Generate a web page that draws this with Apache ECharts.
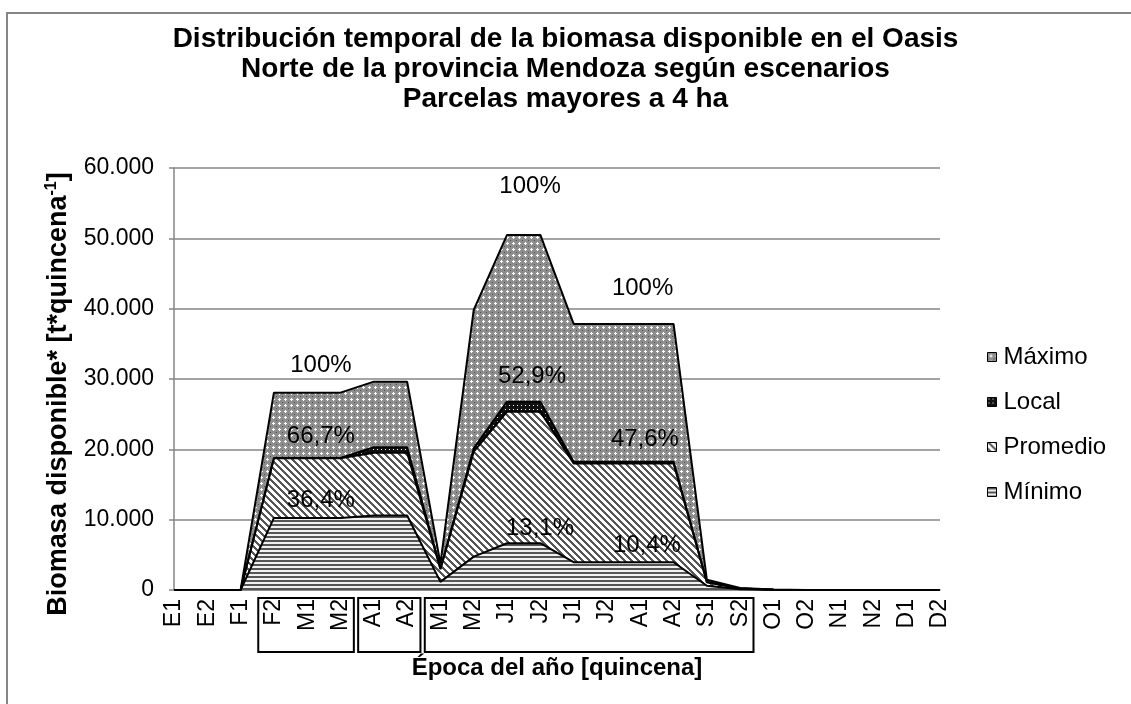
<!DOCTYPE html>
<html>
<head>
<meta charset="utf-8">
<script src="https://cdn.jsdelivr.net/npm/echarts@6/dist/echarts.min.js"></script>
<style>
  html, body { margin: 0; padding: 0; background: #fff; }
  #main { width: 1131px; height: 704px; }
</style>
</head>
<body>
<div id="main"></div>
<script>
// quincenas del año
const categories = ["E1","E2","F1","F2","M1","M2","A1","A2","M1","M2","J1","J2","J1","J2","A1","A2","S1","S2","O1","O2","N1","N2","D1","D2"];

// valores por escenario (apilados), t por quincena
const minimo   = [0,0,0,10250,10250,10250,10600,10600,1150,4740,6650,6650,3950,3950,3950,3950,600,100,30,0,0,0,0,0];
const promedio = [0,0,0,8470,8470,8470,8920,8920,1800,14930,18710,18710,14050,14050,14050,14050,500,100,20,0,0,0,0,0];
const local    = [0,0,0,50,50,50,770,770,100,480,1420,1420,250,250,250,250,50,0,0,0,0,0,0,0];
const maximo   = [0,0,0,9290,9290,9290,9330,9330,700,19670,23700,23700,19580,19580,19580,19580,300,100,20,0,0,0,0,0];

const yTicks = [0, 10000, 20000, 30000, 40000, 50000, 60000];

// porcentajes escritos sobre el grafico (indice de categoria, valor)
const noteText = ["100%","66,7%","36,4%","100%","52,9%","13,1%","100%","47,6%","10,4%"];
const noteIdx  = [4.41, 4.41, 4.41, 10.69, 10.75, 10.99, 14.07, 14.14, 14.2];
const noteVal  = [32000, 21900, 12800, 57370, 30330, 8820, 42950, 21470, 6400];

// recuadros bajo el eje x (desde, hasta)
const boxFrom = [3, 6, 8];
const boxTo   = [5, 7, 17];

const FONT = "'Liberation Sans', Arial, sans-serif";

function tile(w, h, fn) {
  const c = document.createElement("canvas");
  c.width = w; c.height = h;
  const g = c.getContext("2d");
  for (let y = 0; y < h; y++) {
    for (let x = 0; x < w; x++) {
      g.fillStyle = fn(x, y);
      g.fillRect(x, y, 1, 1);
    }
  }
  return { image: c, repeat: "repeat" };
}

const patMax = tile(6, 6, (x, y) => {
  if ((x === 3 && y >= 2 && y <= 4) || (y === 3 && x >= 2 && x <= 4)) return "#ffffff";
  if (x === 0 && y === 0) return "#4a4a4a";
  return "#8e8e8e";
});
const patLoc = tile(4, 4, (x, y) => (x === 1 && y === 1) ? "#ffffff" : "#111111");
const patPro = tile(7, 7, (x, y) => ((((x - y) % 7) + 7) % 7 < 3) ? "#555555" : "#ffffff");
const patMin = tile(1, 4, (x, y) => y < 2 ? "#555555" : "#f0f0f0");

function areaSeries(name, data, pat) {
  return {
    name: name,
    type: "line",
    stack: "total",
    data: data,
    symbol: "none",
    showSymbol: false,
    lineStyle: { color: "#000", width: 2 },
    itemStyle: { color: pat, borderColor: "#000", borderWidth: 1 },
    areaStyle: { color: pat, opacity: 1 },
    emphasis: { disabled: true },
  };
}

function fmt(v) {
  return String(v).replace(/\B(?=(\d{3})+(?!\d))/g, ".");
}

const chart = echarts.init(document.getElementById("main"));

const option = {
  animation: false,
  backgroundColor: "#fff",
  textStyle: { fontFamily: FONT },
  title: {
    text: "Distribución temporal de la biomasa disponible en el Oasis\nNorte de la provincia Mendoza según escenarios\nParcelas mayores a 4 ha",
    left: "center",
    top: 19,
    textStyle: { fontFamily: FONT, fontSize: 28, fontWeight: "bold", color: "#000", lineHeight: 30 },
  },
  legend: {
    orient: "vertical",
    left: 982,
    top: 340,
    icon: "rect",
    itemWidth: 9,
    itemHeight: 9,
    itemGap: 21,
    textStyle: { fontFamily: FONT, fontSize: 24, color: "#000", lineHeight: 24, padding: [0, 0, 0, 2] },
    data: [
      { name: "Máximo", itemStyle: { color: patMax, borderColor: "#000", borderWidth: 1 } },
      { name: "Local", itemStyle: { color: patLoc, borderColor: "#000", borderWidth: 1 } },
      { name: "Promedio", itemStyle: { color: patPro, borderColor: "#000", borderWidth: 1 } },
      { name: "Mínimo", itemStyle: { color: patMin, borderColor: "#000", borderWidth: 1 } },
    ],
  },
  grid: { left: 174, right: 191, top: 168, bottom: 114, containLabel: false },
  xAxis: {
    type: "category",
    data: categories,
    boundaryGap: false,
    name: "Época del año [quincena]",
    nameLocation: "middle",
    nameGap: 66,
    nameTextStyle: { fontFamily: FONT, fontSize: 24, fontWeight: "bold", color: "#000" },
    axisLine: { lineStyle: { color: "#868686", width: 1.5 } },
    axisTick: { show: false },
    axisLabel: { rotate: 90, interval: 0, fontSize: 23, color: "#000", margin: 9, fontFamily: FONT },
    splitLine: { show: false },
  },
  yAxis: {
    type: "value",
    min: yTicks[0],
    max: yTicks[yTicks.length - 1],
    interval: yTicks[1] - yTicks[0],
    name: "{b|Biomasa disponible* [t*quincena}{s|-1}{b|]}",
    nameLocation: "middle",
    nameGap: 100,
    nameTextStyle: {
      padding: [0, 30, 0, 0],
      rich: {
        b: { fontFamily: FONT, fontSize: 27, fontWeight: "bold", color: "#000", lineHeight: 30 },
        s: { fontFamily: FONT, fontSize: 16, fontWeight: "bold", color: "#000", verticalAlign: "top", lineHeight: 30, padding: [0, 0, 12, 0] },
      },
    },
    axisLine: { show: true, lineStyle: { color: "#868686", width: 1.5 } },
    axisTick: { show: true, length: 5, lineStyle: { color: "#868686", width: 1.5 } },
    axisLabel: { fontSize: 23, color: "#000", margin: 20, fontFamily: FONT, formatter: fmt },
    splitLine: { lineStyle: { color: "#868686", width: 1.5 } },
  },
  series: [
    areaSeries("Mínimo", minimo, patMin),
    areaSeries("Promedio", promedio, patPro),
    areaSeries("Local", local, patLoc),
    areaSeries("Máximo", maximo, patMax),
  ],
};

chart.setOption(option);

function xPx(i) {
  const a = Math.floor(i), b = Math.ceil(i);
  const pa = chart.convertToPixel({ xAxisIndex: 0 }, a);
  const pb = chart.convertToPixel({ xAxisIndex: 0 }, b);
  return pa + (pb - pa) * (i - a);
}
function yPx(v) {
  return chart.convertToPixel({ yAxisIndex: 0 }, v);
}

const step = xPx(1) - xPx(0);
const base = yPx(0);
const graphic = [
  {
    type: "rect",
    shape: { x: 7, y: 13, width: 1140, height: 720 },
    style: { fill: null, stroke: "#868686", lineWidth: 2 },
    silent: true,
  },
];
boxFrom.forEach((f, k) => {
  const x0 = xPx(f) - 0.47 * step;
  const x1 = xPx(boxTo[k]) + 0.4 * step;
  graphic.push({
    type: "rect",
    shape: { x: x0, y: base + 8, width: x1 - x0, height: 54 },
    style: { fill: null, stroke: "#000", lineWidth: 2 },
    silent: true,
  });
});
noteText.forEach((t, k) => {
  graphic.push({
    type: "text",
    x: xPx(noteIdx[k]),
    y: yPx(noteVal[k]),
    style: { text: t, fontFamily: FONT, fontSize: 24, fill: "#000", align: "center", verticalAlign: "middle" },
    silent: true,
    z: 100,
  });
});
chart.setOption({ graphic: graphic });

window.addEventListener("resize", () => chart.resize());
</script>
</body>
</html>
